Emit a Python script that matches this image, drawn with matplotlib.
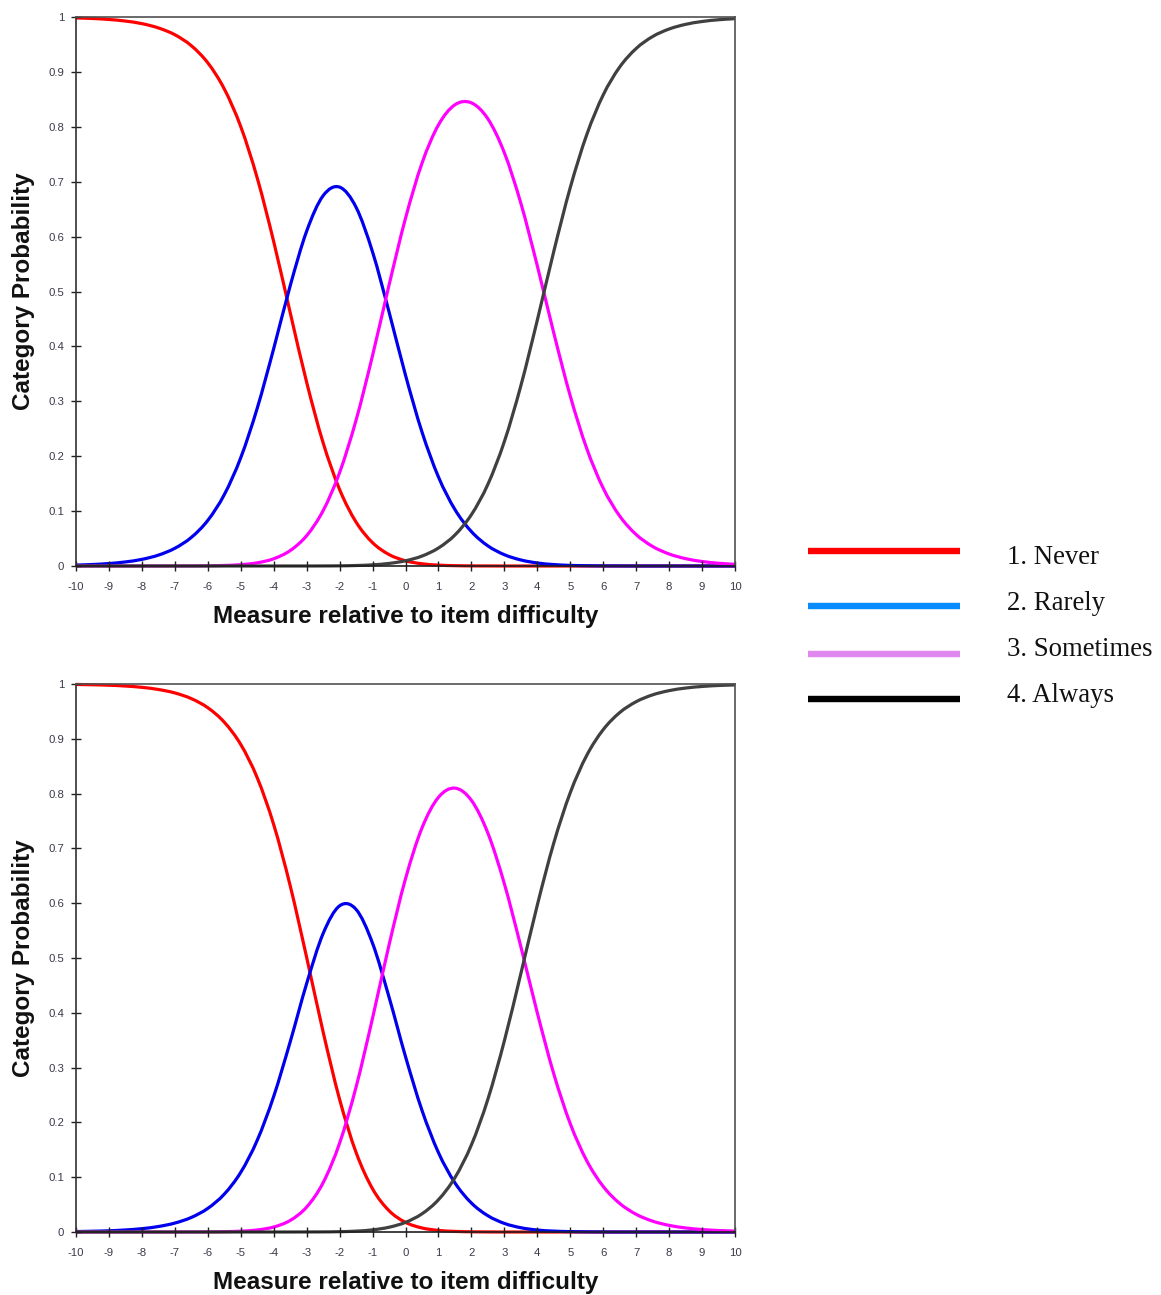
import matplotlib
matplotlib.use("Agg")
import matplotlib.pyplot as plt
from matplotlib.lines import Line2D
from matplotlib.path import Path
from matplotlib.patches import PathPatch

# ---------------- data ----------------
x_vals = [-10, -9.5, -9, -8.5, -8, -7.5, -7, -6.5, -6, -5.5, -5, -4.5, -4, -3.5, -3,
          -2.5, -2, -1.5, -1, -0.5, 0, 0.5, 1, 1.5, 2, 2.5, 3, 3.5, 4, 4.5, 5,
          5.5, 6, 6.5, 7, 7.5, 8, 8.5, 9, 9.5, 10]

top_never = [0.9983, 0.9973, 0.9955, 0.9926, 0.9879, 0.9801, 0.9677, 0.9477, 0.9165, 0.8690,
             0.8003, 0.7068, 0.5908, 0.4617, 0.3347, 0.2245, 0.1393, 0.0800, 0.0425, 0.0209,
             0.0095, 0.0040, 0.0016, 0.0006, 0.0002, 0.0001, 0.0, 0.0, 0.0, 0.0, 0.0,
             0.0, 0.0, 0.0, 0.0, 0.0, 0.0, 0.0, 0.0, 0.0, 0.0]
top_rarely = [0.0017, 0.0027, 0.0045, 0.0074, 0.0121, 0.0198, 0.0323, 0.0521, 0.0831, 0.1300,
              0.1973, 0.2874, 0.3960, 0.5103, 0.6099, 0.6745, 0.6901, 0.6534, 0.5720, 0.4629,
              0.3476, 0.2442, 0.1622, 0.1029, 0.0627, 0.0367, 0.0206, 0.0110, 0.0055, 0.0026, 0.0011,
              0.0005, 0.0002, 0.0001, 0.0, 0.0, 0.0, 0.0, 0.0, 0.0, 0.0]
top_sometimes = [0.0, 0.0, 0.0, 0.0, 0.0, 0.0, 0.0001, 0.0001, 0.0004, 0.0010,
                 0.0024, 0.0058, 0.0132, 0.0281, 0.0553, 0.1009, 0.1702, 0.2657, 0.3834, 0.5116,
                 0.6334, 0.7336, 0.8034, 0.8401, 0.8436, 0.8145, 0.7527, 0.6609, 0.5468, 0.4244, 0.3097,
                 0.2141, 0.1418, 0.0911, 0.0573, 0.0356, 0.0219, 0.0134, 0.0082, 0.0050, 0.0030]
top_always = [0.0, 0.0, 0.0, 0.0, 0.0, 0.0, 0.0, 0.0, 0.0, 0.0,
              0.0, 0.0, 0.0, 0.0, 0.0, 0.0001, 0.0003, 0.0009, 0.0021, 0.0047,
              0.0095, 0.0181, 0.0328, 0.0565, 0.0935, 0.1488, 0.2267, 0.3282, 0.4477, 0.5730, 0.6892,
              0.7855, 0.8580, 0.9088, 0.9426, 0.9644, 0.9781, 0.9866, 0.9918, 0.9950, 0.9970]

bot_never = [0.9992, 0.9986, 0.9978, 0.9963, 0.9939, 0.9900, 0.9837, 0.9733, 0.9567, 0.9303,
             0.8896, 0.8289, 0.7434, 0.6320, 0.5011, 0.3651, 0.2420, 0.1452, 0.0788, 0.0389,
             0.0176, 0.0074, 0.0029, 0.0011, 0.0004, 0.0001, 0.0, 0.0, 0.0, 0.0, 0.0,
             0.0, 0.0, 0.0, 0.0, 0.0, 0.0, 0.0, 0.0, 0.0, 0.0]
bot_rarely = [0.0008, 0.0014, 0.0022, 0.0037, 0.0061, 0.0100, 0.0163, 0.0266, 0.0431, 0.0691,
              0.1089, 0.1674, 0.2475, 0.3469, 0.4534, 0.5447, 0.5952, 0.5887, 0.5269, 0.4287,
              0.3201, 0.2221, 0.1449, 0.0897, 0.0529, 0.0297, 0.0157, 0.0078, 0.0036, 0.0016, 0.0007,
              0.0003, 0.0001, 0.0, 0.0, 0.0, 0.0, 0.0, 0.0, 0.0, 0.0]
bot_sometimes = [0.0, 0.0, 0.0, 0.0, 0.0, 0.0, 0.0, 0.0001, 0.0002, 0.0006,
                 0.0015, 0.0037, 0.0091, 0.0211, 0.0455, 0.0900, 0.1622, 0.2645, 0.3903, 0.5237,
                 0.6446, 0.7373, 0.7932, 0.8100, 0.7877, 0.7279, 0.6355, 0.5209, 0.3999, 0.2886, 0.1977,
                 0.1301, 0.0832, 0.0522, 0.0323, 0.0198, 0.0121, 0.0074, 0.0045, 0.0027, 0.0017]
bot_always = [0.0, 0.0, 0.0, 0.0, 0.0, 0.0, 0.0, 0.0, 0.0, 0.0,
              0.0, 0.0, 0.0, 0.0, 0.0001, 0.0002, 0.0006, 0.0016, 0.0039, 0.0087,
              0.0176, 0.0332, 0.0589, 0.0992, 0.1590, 0.2423, 0.3488, 0.4713, 0.5965, 0.7098, 0.8016,
              0.8697, 0.9167, 0.9478, 0.9677, 0.9802, 0.9879, 0.9926, 0.9955, 0.9973, 0.9983]

categories = ["1. Never", "2. Rarely", "3. Sometimes", "4. Always"]
x_ticks = list(range(-10, 11))
y_ticks = [0, 0.1, 0.2, 0.3, 0.4, 0.5, 0.6, 0.7, 0.8, 0.9, 1]
y_tick_labels = ["0", "0.1", "0.2", "0.3", "0.4", "0.5", "0.6", "0.7", "0.8", "0.9", "1"]
x_label = "Measure relative to item difficulty"
y_label = "Category Probability"


def smooth_path(xs, ys):
    """Smooth Bezier path (Catmull-Rom tangents) passing through the read points."""
    n = len(xs)
    verts = [(xs[0], ys[0])]
    codes = [Path.MOVETO]
    for i in range(n - 1):
        i0 = max(i - 1, 0)
        i3 = min(i + 2, n - 1)
        d1 = 6.0 if i > 0 else 3.0
        d2 = 6.0 if i + 2 <= n - 1 else 3.0
        c1 = (xs[i] + (xs[i + 1] - xs[i0]) / d1, ys[i] + (ys[i + 1] - ys[i0]) / d1)
        c2 = (xs[i + 1] - (xs[i3] - xs[i]) / d2, ys[i + 1] - (ys[i3] - ys[i]) / d2)
        verts += [c1, c2, (xs[i + 1], ys[i + 1])]
        codes += [Path.CURVE4, Path.CURVE4, Path.CURVE4]
    return Path(verts, codes)


# ---------------- styling ----------------
plot_colors = ["#ff0000", "#0000ee", "#ff00ff", "#404040"]
legend_colors = ["#ff0000", "#0a8cff", "#e088f0", "#000000"]
W, H = 1161, 1295
fig = plt.figure(figsize=(W / 100, H / 100), dpi=100)

panels = [
    ([top_never, top_rarely, top_sometimes, top_always], (76, 17, 735, 566)),
    ([bot_never, bot_rarely, bot_sometimes, bot_always], (76, 684, 735, 1232)),
]

tick_color = "#3a3a4a"
spine_color = "#505050"
for series, (l, t, r, b) in panels:
    ax = fig.add_axes([l / W, 1 - b / H, (r - l) / W, (b - t) / H])
    for ys, c in zip(series, plot_colors):
        patch = PathPatch(smooth_path(x_vals, ys), facecolor="none", edgecolor=c,
                          lw=2.3, clip_on=False, capstyle="butt", joinstyle="round")
        ax.add_patch(patch)
    ax.set_xlim(-10, 10)
    ax.set_ylim(0, 1)
    ax.set_xticks(x_ticks)
    ax.set_xticklabels([str(v) for v in x_ticks])
    ax.set_yticks(y_ticks)
    ax.set_yticklabels(y_tick_labels)
    ax.tick_params(direction="inout", length=7, width=1.0, color="#202020",
                   labelsize=8.2, labelcolor=tick_color)
    ax.tick_params(axis="x", pad=8)
    ax.tick_params(axis="y", pad=5)
    for lab in ax.get_xticklabels() + ax.get_yticklabels():
        lab.set_family("Liberation Sans")
    for s in ax.spines.values():
        s.set_color(spine_color)
        s.set_linewidth(1.2)
    ax.spines["left"].set_color("#303030")
    ax.spines["bottom"].set_color("#202020")
    ax.set_xlabel(x_label, fontsize=17.5, fontweight="bold", family="Liberation Sans",
                  color="#111111")
    ax.xaxis.set_label_coords(0.5, -51.0 / (b - t))
    ax.xaxis.label.set_va("center")
    ax.set_ylabel(y_label, fontsize=17.5, fontweight="bold", family="Liberation Sans",
                  color="#111111")
    ax.yaxis.set_label_coords(-(l - 24) / (r - l), 0.5)
    ax.yaxis.label.set_va("center")

# ---------------- legend (drawn on the figure) ----------------
leg_line_y = [551, 606, 654, 699]
leg_text_y = [557, 603, 649, 695]
for lab, c, ly, ty in zip(categories, legend_colors, leg_line_y, leg_text_y):
    fig.add_artist(Line2D([808 / W, 960 / W], [1 - ly / H, 1 - ly / H],
                          color=c, lw=4.6, solid_capstyle="butt",
                          transform=fig.transFigure))
    fig.text(1007 / W, 1 - ty / H, lab, fontsize=19.3, family="Liberation Serif",
             ha="left", va="center", color="#111111")

fig.savefig("out.png", dpi=100)
